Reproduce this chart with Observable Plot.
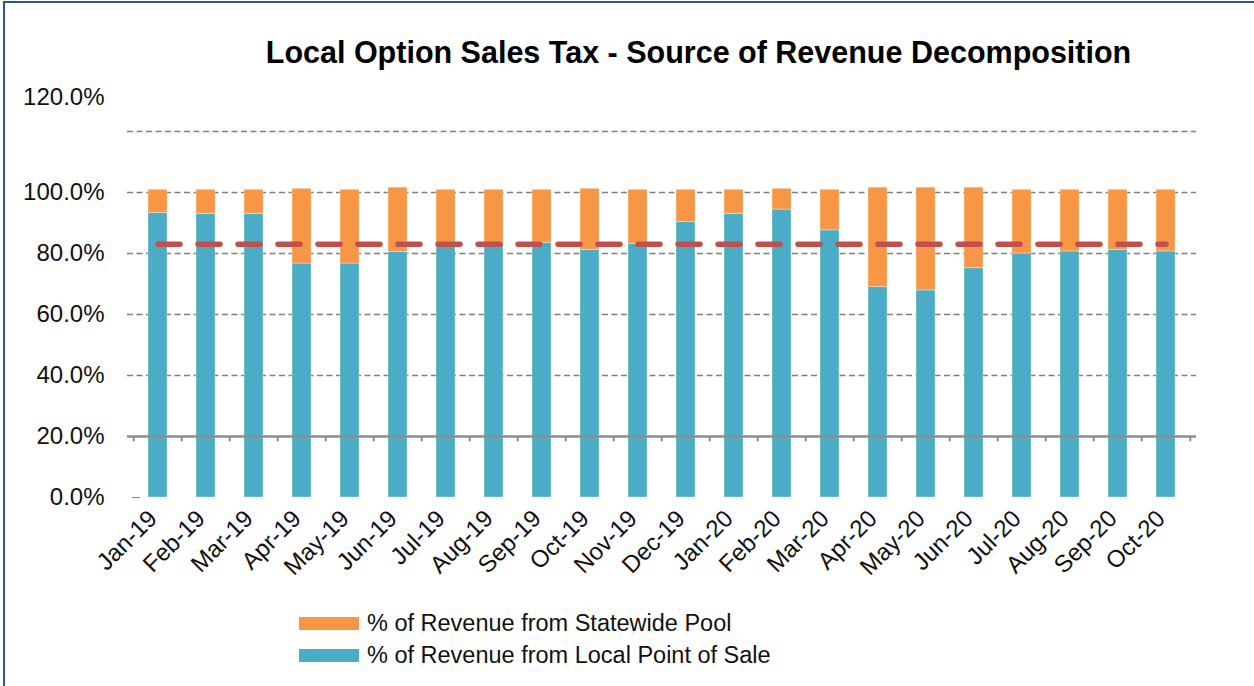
<!DOCTYPE html>
<html>
<head>
<meta charset="utf-8">
<script src="https://cdn.jsdelivr.net/npm/d3@7"></script>
<script src="https://cdn.jsdelivr.net/npm/@observablehq/plot@0.6"></script>
<style>
  html, body { margin: 0; padding: 0; background: #fff; }
  #wrap { position: relative; width: 1254px; height: 686px; overflow: hidden; font-family: "Liberation Sans", Arial, sans-serif; }
  #chart { position: absolute; left: 0; top: 0; }
  #title { position: absolute; left: 0; width: 1397px; top: 35px; text-align: center; font-weight: bold; font-size: 30.5px; color: #000; white-space: nowrap; }
  .leg { position: absolute; left: 299px; font-size: 23.5px; color: #111; white-space: nowrap; display: flex; align-items: center; }
  .sw { width: 60px; height: 13px; margin-right: 8px; }
  #frame { position: absolute; left: 3px; top: 1px; width: 1249px; height: 683px; border: 2px solid #2F5496; pointer-events: none; }
</style>
</head>
<body>
<div id="wrap">
  <div id="chart"></div>
  <div id="title">Local Option Sales Tax - Source of Revenue Decomposition</div>
  <div class="leg" style="top:610px"><div class="sw" style="background:#F79646"></div>% of Revenue from Statewide Pool</div>
  <div class="leg" style="top:642px"><div class="sw" style="background:#4BACC6"></div>% of Revenue from Local Point of Sale</div>
  <div id="frame"></div>
</div>
<script>
const months = ["Jan-19","Feb-19","Mar-19","Apr-19","May-19","Jun-19","Jul-19","Aug-19","Sep-19","Oct-19","Nov-19","Dec-19",
                "Jan-20","Feb-20","Mar-20","Apr-20","May-20","Jun-20","Jul-20","Aug-20","Sep-20","Oct-20"];
const localPOS = [93.3,93.0,93.0,76.7,76.7,80.5,82.2,83.1,83.5,81.2,83.2,90.3,93.0,94.4,87.6,69.0,67.9,75.2,80.0,80.7,81.2,80.7];
const statewidePool = [7.6,7.9,7.9,24.5,24.2,21.1,18.7,17.8,17.4,20.0,17.7,10.6,7.9,6.8,13.3,32.6,33.7,26.4,20.9,20.2,19.7,20.2];
const averageLocal = 83.0;
const yTicks = [0,20,40,60,80,100];
const gridTicks = [40,60,80,100,120];
const axisCross = 20;

const rows = [
  ...months.map((m,i) => ({month:m, series:"local", value:localPOS[i]})),
  ...months.map((m,i) => ({month:m, series:"pool", value:statewidePool[i]}))
];

const W = 1254, H = 686;
const mL = 127, mR = 58, mT = 131, mB = 189;
const step = (W - mL - mR) / months.length;

const chart = Plot.plot({
  width: W, height: H,
  marginLeft: mL, marginRight: mR, marginTop: mT, marginBottom: mB,
  style: {fontFamily: '"Liberation Sans", Arial, sans-serif', background: "transparent", color: "#111"},
  x: {domain: months, paddingInner: 0.6, paddingOuter: 0.3, label: null},
  y: {domain: [0,120], label: null},
  color: {domain: ["local","pool"], range: ["#4BACC6","#F79646"]},
  marks: [
    Plot.gridY(gridTicks, {stroke: "#7F7F7F", strokeOpacity: 1, strokeWidth: 1.5, strokeDasharray: "6,3.5"}),
    Plot.axisY(yTicks, {tickSize: 0, tickPadding: 23, fontSize: 24, tickFormat: d => d.toFixed(1) + "%", label: null}),
    Plot.text([120], {y: d => d, text: d => d.toFixed(1) + "%", frameAnchor: "left", dx: -23, dy: -34, textAnchor: "end", fontSize: 24}),
    Plot.axisY([0], {tickSize: 8, dx: 13, tickFormat: () => "", stroke: "#888", label: null}),
    Plot.barY(rows, {x: "month", y: "value", fill: d => d.series, stroke: "#ffffff", strokeOpacity: 0.35, strokeWidth: 1}),
    Plot.ruleY([axisCross], {stroke: "#8C8C8C", strokeWidth: 2.5}),
    Plot.ruleX(months, {x: d => d, y1: axisCross, y2: axisCross - 1.7, dx: -step/2, stroke: "#8C8C8C", strokeWidth: 2}),
    Plot.ruleX([months[months.length-1]], {x: d => d, y1: axisCross, y2: axisCross - 1.7, dx: step/2, stroke: "#8C8C8C", strokeWidth: 2}),
    Plot.lineY(months, {x: d => d, y: () => averageLocal, stroke: "#C0504D", strokeWidth: 5.5, strokeDasharray: "22,18"}),
    Plot.axisX({tickSize: 0, tickPadding: 17, dx: -5, tickRotate: -45, fontSize: 24, label: null})
  ]
});
document.getElementById("chart").appendChild(chart);
</script>
</body>
</html>
